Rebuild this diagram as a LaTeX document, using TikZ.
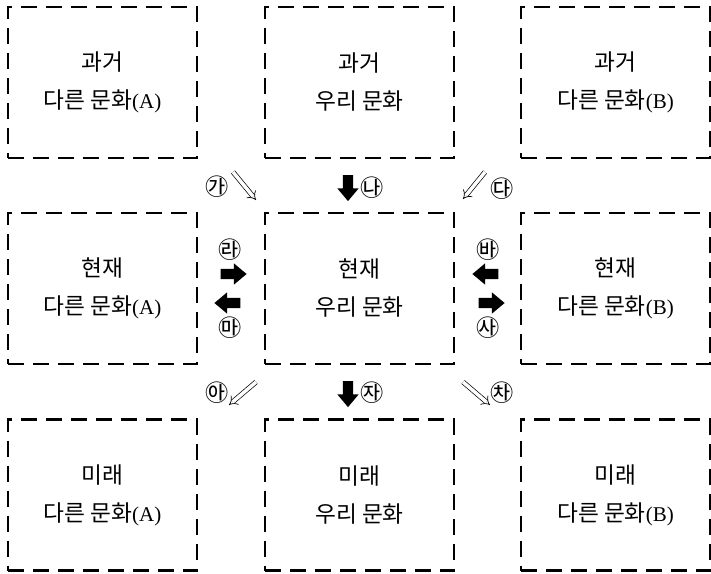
\documentclass[tikz,border=0pt]{standalone}
\usepackage{fontspec}
\setmainfont{Liberation Serif}
\newfontfamily\kr[Scale=1.08]{Noto Sans CJK KR}
\usetikzlibrary{arrows.meta}
\usetikzlibrary{shapes.arrows}

\begin{document}
\begin{tikzpicture}[x=1pt,y=-1pt,
  box/.style={draw,line width=2.5pt,dash pattern=on 16pt off 9pt,minimum width=189pt,minimum height=151pt,align=center,font=\fontsize{21}{38}\selectfont},
  circ/.style={inner sep=0pt,font=\kr\fontsize{21.5}{21.5}\selectfont},
  blk/.style={single arrow,fill=black,inner sep=5pt,minimum width=21pt,minimum height=26pt,single arrow head extend=5.5pt,single arrow tip angle=80},
  dbl/.style={double,double distance=3.5pt,line width=0.7pt,-{Implies[scale=2.2]}}]
\useasboundingbox (0,0) rectangle (711,573);
\node[box] (pa) at (102.5,82.5) {{\kr 과거}\\{\kr 다른 문화}(A)};
\node[box] (pu) at (359.5,82.5) {{\kr 과거}\\{\kr 우리 문화}};
\node[box] (pb) at (615.5,82.5) {{\kr 과거}\\{\kr 다른 문화}(B)};
\node[box] (na) at (102.5,288.5) {{\kr 현재}\\{\kr 다른 문화}(A)};
\node[box] (nu) at (359.5,288.5) {{\kr 현재}\\{\kr 우리 문화}};
\node[box] (nb) at (615.5,288.5) {{\kr 현재}\\{\kr 다른 문화}(B)};
\node[box] (fa) at (102.5,495) {{\kr 미래}\\{\kr 다른 문화}(A)};
\node[box] (fu) at (359.5,495) {{\kr 미래}\\{\kr 우리 문화}};
\node[box] (fb) at (615.5,495) {{\kr 미래}\\{\kr 다른 문화}(B)};

\draw[dbl] (233,172) -- (256,200);
\node[blk,shape border rotate=270] (d1) at (348,185) {};
\draw[dbl] (485,172) -- (463,199);
\node[circ] (ga) at (217,187) {㉮};
\node[circ] (na1) at (372,188) {㉯};
\node[circ] (da) at (502,189) {㉰};

\node[circ] (ra) at (230,250) {㉱};
\node[blk] (r1) at (230.5,274) {};
\node[blk,shape border rotate=180] (l1) at (230.5,303) {};
\node[circ] (ma) at (230,328) {㉲};
\node[circ] (ba) at (488,250) {㉳};
\node[blk,shape border rotate=180] (l2) at (488.5,274) {};
\node[blk] (r2) at (488.5,303) {};
\node[circ] (sa) at (488,328) {㉴};

\draw[dbl] (256,382) -- (229,405);
\node[blk,shape border rotate=270] (d2) at (348,391) {};
\draw[dbl] (463,382) -- (490,405);
\node[circ] (aa) at (217,393) {㉵};
\node[circ] (ja) at (372,393) {㉶};
\node[circ] (cha) at (502,393) {㉷};
\end{tikzpicture}
\end{document}
